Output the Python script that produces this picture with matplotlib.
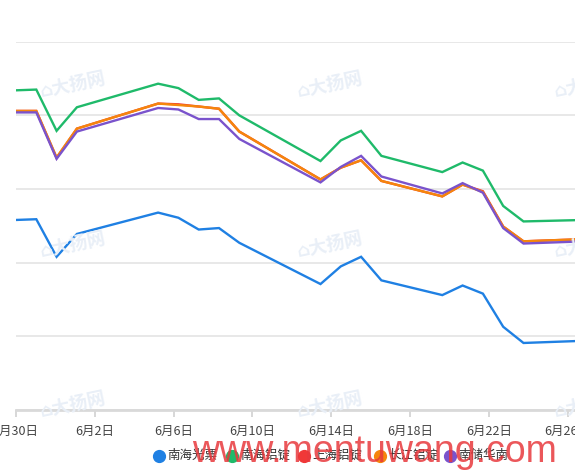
import matplotlib.pyplot as plt
from matplotlib.lines import Line2D
import numpy as np

plt.rcParams['font.family'] = ['Noto Sans CJK SC', 'DejaVu Sans']

# trading-day offsets from the first point
day_offset = [0, 1, 2, 3, 7, 8, 9, 10, 11, 15, 16, 17, 18, 21, 22, 23, 24, 25, 28]

series_names = ['南海光票', '南海铝锭', '上海铝锭', '长江铝锭', '南储华南']
blue_vals = [18258, 18259, 18208, 18239, 18268, 18261, 18245, 18247, 18227, 18171,
             18195, 18208, 18176, 18156, 18169, 18158, 18113, 18091, 18094]
green_vals = [18434, 18435, 18379, 18411, 18443, 18437, 18421, 18423, 18400, 18338,
              18366, 18379, 18345, 18323, 18336, 18325, 18277, 18256, 18258]
red_vals = [18406, 18406, 18342, 18382, 18416, 18415, 18412, 18409, 18378, 18313,
            18329, 18339, 18311, 18290, 18306, 18297, 18249, 18229, 18232]
orange_vals = [18406, 18406, 18343, 18382, 18416, 18414, 18412, 18409, 18378, 18313,
               18329, 18339, 18311, 18290, 18306, 18296, 18249, 18229, 18232]
purple_vals = [18404, 18404, 18341, 18378, 18410, 18408, 18395, 18395, 18368, 18309,
               18330, 18345, 18317, 18294, 18308, 18295, 18247, 18226, 18229]

tick_labels = ['5月30日', '6月2日', '6月6日', '6月10日', '6月14日', '6月18日', '6月22日', '6月26日']

colors = ['#1f80e3', '#1fba6a', '#f03838', '#f5860c', '#7a53cc']
all_vals = [blue_vals, green_vals, red_vals, orange_vals, purple_vals]

W, H = 575, 475
fig = plt.figure(figsize=(W / 100, H / 100), dpi=100)
ax = fig.add_axes([16 / W, 1 - 410 / H, 1 - 16 / W, (410 - 41.7) / H])

# faint site watermarks
for wx in [73, 330, 587]:
    for wy in [85, 245, 405]:
        fig.text(wx / W, 1 - wy / H, '⌂大扬网', color='#e9eff7', fontsize=13,
                 rotation=12, ha='center', va='center', zorder=0,
                 family=['Noto Sans CJK SC', 'DejaVu Sans'], fontweight='bold')

for vals, c in zip(all_vals, colors):
    ax.plot(day_offset, vals, color=c, lw=1.7, solid_joinstyle='miter', zorder=3)

ax.set_xlim(0, (W - 16) / 20.3)
ax.set_ylim(18000, 18500)
ax.set_yticks(np.arange(18000, 18501, 100))
ax.yaxis.grid(True, color='#e6e6e6', lw=1.3)
ax.tick_params(axis='y', length=0, labelleft=False)

tick_step = 78.8 / 20.3
ax.set_xticks(np.arange(len(tick_labels)) * tick_step)
ax.set_xticklabels(tick_labels, fontsize=9, color='#444444')
ax.tick_params(axis='x', length=5, width=1.3, color='#d4d4d4', pad=6)

for s in ['top', 'right', 'left']:
    ax.spines[s].set_visible(False)
ax.spines['bottom'].set_color('#d9d9d9')
ax.spines['bottom'].set_linewidth(2)
ax.set_axisbelow(True)

# legend row at the bottom
leg_x = [159, 232, 304, 380, 450]
for lx, name, c in zip(leg_x, series_names, colors):
    fig.add_artist(Line2D([lx / W], [1 - 455.5 / H], marker='o', markersize=8.5,
                          color=c, linestyle='none'))
    fig.text((lx + 8) / W, 1 - 455.5 / H, name, fontsize=9, color='#333333',
             ha='left', va='center')

fig.text(192 / W, 1 - 452 / H, 'www.mentuwang.com', color='#e8393d', alpha=0.85,
         fontsize=27, ha='left', va='center', family='Liberation Sans')

fig.savefig('out.png', dpi=100)
